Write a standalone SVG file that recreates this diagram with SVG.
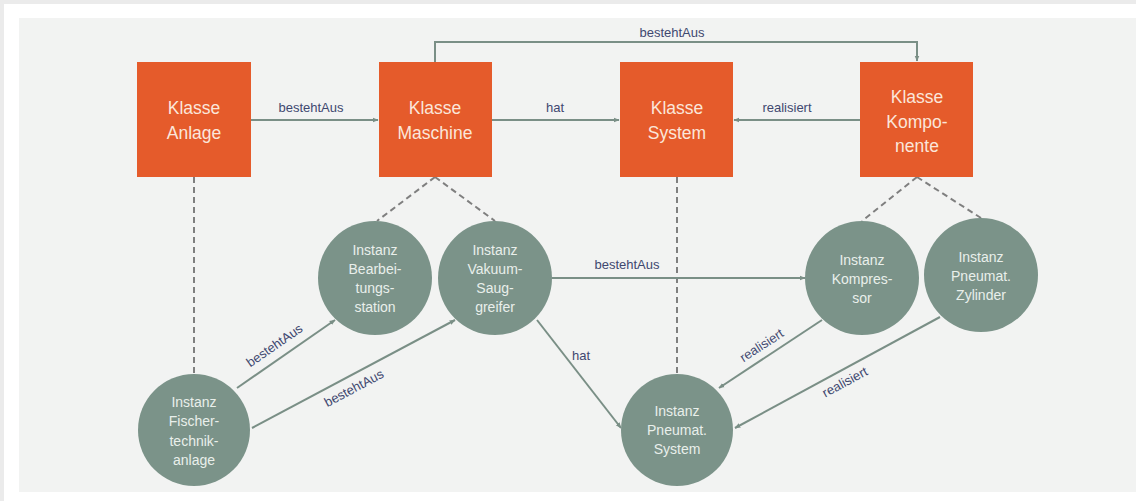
<svg xmlns="http://www.w3.org/2000/svg" width="1136" height="501" viewBox="0 0 1136 501">
<defs>
<style>
.cls rect{fill:#e55b2b}
.cls text{fill:#fbe6da;font-family:"Liberation Sans",Arial,sans-serif;font-size:17.5px;text-anchor:middle}
.inst circle{fill:#7b9389}
.inst text{fill:#e9efeb;font-family:"Liberation Sans",Arial,sans-serif;font-size:14px;text-anchor:middle}
.edge{stroke:#7a8f86;stroke-width:2;fill:none}
.dash{stroke:#7f7f7f;stroke-width:2;fill:none;stroke-dasharray:6 4}
.lbl{fill:#3f4870;font-family:"Liberation Sans",Arial,sans-serif;font-size:13px;text-anchor:middle}
</style>
<marker id="arr" viewBox="0 0 10 10" refX="9" refY="5" markerWidth="6" markerHeight="6" orient="auto" markerUnits="userSpaceOnUse">
<path d="M0,1 L10,5 L0,9 z" fill="#7a8f86"/>
</marker>
</defs>
<rect x="0" y="0" width="1136" height="501" fill="#ffffff"/>
<rect x="0" y="0" width="1136" height="4" fill="#ebebeb"/>
<rect x="0" y="0" width="4" height="501" fill="#ebebeb"/>
<rect x="19" y="18" width="1117" height="474" fill="#f2f3f2"/>

<g id="connectors">
<line class="dash" x1="194" y1="177" x2="194" y2="374"/>
<line class="dash" x1="435" y1="177" x2="377" y2="221"/>
<line class="dash" x1="435" y1="177" x2="495" y2="221"/>
<line class="dash" x1="677" y1="177" x2="677" y2="374"/>
<line class="dash" x1="917" y1="177" x2="862" y2="221"/>
<line class="dash" x1="917" y1="177" x2="981" y2="218"/>

<line class="edge" x1="251" y1="120" x2="378" y2="120" marker-end="url(#arr)"/>
<text class="lbl" x="311" y="112">bestehtAus</text>
<line class="edge" x1="492" y1="120" x2="619" y2="120" marker-end="url(#arr)"/>
<text class="lbl" x="555" y="112">hat</text>
<line class="edge" x1="860" y1="120" x2="734" y2="120" marker-end="url(#arr)"/>
<text class="lbl" x="787" y="112">realisiert</text>
<polyline class="edge" points="435,62 435,42 917,42 917,61" marker-end="url(#arr)"/>
<text class="lbl" x="672" y="37">bestehtAus</text>

<line class="edge" x1="237" y1="388" x2="335" y2="320" marker-end="url(#arr)"/>
<text class="lbl" transform="translate(277,349) rotate(-34.8)">bestehtAus</text>
<line class="edge" x1="252" y1="428" x2="455" y2="320" marker-end="url(#arr)"/>
<text class="lbl" transform="translate(356,392) rotate(-28)">bestehtAus</text>
<line class="edge" x1="552" y1="278" x2="805" y2="278" marker-end="url(#arr)"/>
<text class="lbl" x="627" y="269">bestehtAus</text>
<line class="edge" x1="537" y1="320" x2="621" y2="428" marker-end="url(#arr)"/>
<text class="lbl" x="581" y="360">hat</text>
<line class="edge" x1="822" y1="320" x2="719" y2="388" marker-end="url(#arr)"/>
<text class="lbl" transform="translate(764,349) rotate(-33)">realisiert</text>
<line class="edge" x1="940" y1="317" x2="735" y2="428" marker-end="url(#arr)"/>
<text class="lbl" transform="translate(847,386) rotate(-28.3)">realisiert</text>
</g>

<g id="klasse-anlage" class="cls">
<rect x="137" y="62" width="114" height="115"/>
<text x="194" y="114">Klasse</text>
<text x="194" y="139">Anlage</text>
</g>
<g id="klasse-maschine" class="cls">
<rect x="379" y="62" width="113" height="115"/>
<text x="435" y="114">Klasse</text>
<text x="435" y="139">Maschine</text>
</g>
<g id="klasse-system" class="cls">
<rect x="620" y="62" width="113" height="115"/>
<text x="677" y="114">Klasse</text>
<text x="677" y="139">System</text>
</g>
<g id="klasse-komponente" class="cls">
<rect x="860" y="62" width="113" height="115"/>
<text x="917" y="103">Klasse</text>
<text x="917" y="128">Kompo-</text>
<text x="917" y="152">nente</text>
</g>

<g id="instanz-bearbeitungsstation" class="inst">
<circle cx="375" cy="278" r="57"/>
<text x="375" y="255">Instanz</text>
<text x="375" y="274">Bearbei-</text>
<text x="375" y="293">tungs-</text>
<text x="375" y="312">station</text>
</g>
<g id="instanz-vakuumsauggreifer" class="inst">
<circle cx="495" cy="278" r="57"/>
<text x="495" y="255">Instanz</text>
<text x="495" y="274">Vakuum-</text>
<text x="495" y="293">Saug-</text>
<text x="495" y="312">greifer</text>
</g>
<g id="instanz-fischertechnikanlage" class="inst">
<circle cx="194" cy="430" r="56"/>
<text x="194" y="407">Instanz</text>
<text x="194" y="426">Fischer-</text>
<text x="194" y="446">technik-</text>
<text x="194" y="465">anlage</text>
</g>
<g id="instanz-pneumat-system" class="inst">
<circle cx="677" cy="430" r="56"/>
<text x="677" y="416">Instanz</text>
<text x="677" y="435">Pneumat.</text>
<text x="677" y="454">System</text>
</g>
<g id="instanz-kompressor" class="inst">
<circle cx="862" cy="278" r="57"/>
<text x="862" y="265">Instanz</text>
<text x="862" y="284">Kompres-</text>
<text x="862" y="303">sor</text>
</g>
<g id="instanz-pneumat-zylinder" class="inst">
<circle cx="981" cy="275" r="57"/>
<text x="981" y="262">Instanz</text>
<text x="981" y="281">Pneumat.</text>
<text x="981" y="300">Zylinder</text>
</g>
</svg>
